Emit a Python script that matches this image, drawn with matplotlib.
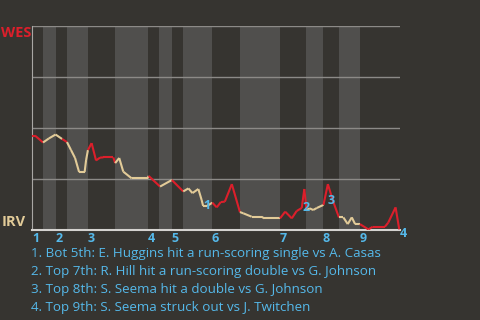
import matplotlib
matplotlib.use("Agg")
import matplotlib.pyplot as plt

# game progress (0-100) and WES win probability (%)
progress = [0, 0.8, 3.0, 4.6, 6.4, 8.2, 9.5, 10.6, 11.7, 12.8, 14.3, 14.7, 15.2,
            16.2, 17.4, 18.5, 19.4, 22.1, 22.6, 23.7, 24.8, 27.1, 31.4, 31.7,
            34.8, 38.0, 41.1, 42.5, 43.6, 45.2, 46.1, 46.5, 47.6, 49.0, 50.2,
            51.3, 52.4, 54.3, 56.5, 57.4, 59.7, 62.4, 63.1, 67.4, 68.8, 70.6,
            71.9, 73.3, 74.0, 74.6, 75.5, 76.4, 77.4, 79.2, 80.4, 81.7, 83.4,
            84.6, 85.8, 86.9, 87.8, 89.1, 91.4, 92.6, 95.9, 96.8, 98.8, 99.8]
wes_wp = [46.3, 46.3, 42.9, 44.9, 46.8, 44.6, 43.1, 39.2, 35.3, 28.4, 28.4, 34.3,
          39.2, 42.6, 34.1, 35.5, 35.6, 35.6, 32.8, 35.3, 28.6, 25.3, 25.3, 26.5,
          21.3, 24.5, 18.9, 20.4, 18.1, 20.1, 14.7, 11.8, 11.8, 13.4, 11.1, 13.7,
          13.9, 22.5, 8.8, 8.2, 6.5, 6.5, 5.7, 5.7, 9.0, 5.7, 9.3, 10.8, 20.1,
          9.8, 10.6, 9.8, 10.8, 12.3, 22.5, 14.7, 6.2, 6.2, 2.9, 6.2, 2.9, 2.9,
          0.3, 1.6, 1.6, 3.6, 11.1, 0.3]

# where each half inning starts
top_starts = [0, 6.5, 15.2, 31.5, 38, 48.9, 67.4, 79, 89]
bot_starts = [3, 9.5, 22.6, 34.5, 41, 56.5, 74.5, 83.4]
game_end = 100
innings = [str(i) for i in range(1, 10)]

# key plays: index into the series, label offset in points
play_idx = [32, 49, 55, 67]
play_off = [(0, 0), (-0.5, 2), (-1.2, -0.6), (3, -3)]
plays = [
    "1. Bot 5th: E. Huggins hit a run-scoring single vs A. Casas",
    "2. Top 7th: R. Hill hit a run-scoring double vs G. Johnson",
    "3. Top 8th: S. Seema hit a double vs G. Johnson",
    "4. Top 9th: S. Seema struck out vs J. Twitchen",
]

bg = "#363430"
band = "#504f4d"
red = "#dc1f2b"
tan = "#e2cb98"
blue = "#55b9ea"

plt.rcParams['font.family'] = ['Open Sans', 'DejaVu Sans']

fig = plt.figure(figsize=(4.8, 3.2), dpi=100, facecolor=bg)
ax = fig.add_axes([32 / 480, 90 / 320, 368 / 480, 204 / 320])
ax.set_facecolor(bg)

# shade bottom halves
for i, b in enumerate(bot_starts):
    ax.axvspan(b, top_starts[i + 1], color=band, lw=0, zorder=0)

for v in [25, 50, 75, 100]:
    ax.axhline(v, color="#8c8a87", lw=1, zorder=1)

# colour each segment by the batting team
for i in range(len(progress) - 1):
    x0 = progress[i]
    last_top = max(t for t in top_starts if t <= x0)
    last_bot = max([b for b in bot_starts if b <= x0], default=-1)
    c = red if last_top > last_bot else tan
    ax.plot(progress[i:i + 2], wes_wp[i:i + 2], color=c, lw=1.5,
            solid_capstyle='butt', zorder=3)

for k, i in enumerate(play_idx):
    ax.annotate(str(k + 1), (progress[i], wes_wp[i]), xytext=play_off[k],
                textcoords='offset points', ha='center', va='center',
                color=blue, fontsize=9, fontweight='bold', zorder=4)

ax.set_xlim(0, game_end)
ax.set_ylim(0, 100)
ax.set_xticks([])
ax.set_yticks([])
for s in ['top', 'right']:
    ax.spines[s].set_visible(False)
ax.spines['left'].set_color("#a9a7a4")
ax.spines['bottom'].set_color("#d4d2cf")
ax.spines['bottom'].set_linewidth(1.5)

for t, lab in zip(top_starts, innings):
    ax.text(t, -4, lab, ha='left', va='center', color=blue,
            fontsize=9, fontweight='bold', transform=ax.transData, clip_on=False)

fig.text(1 / 480, 1 - 33 / 320, "WES", color=red, fontsize=10.5,
         fontweight='bold', va='center', ha='left')
fig.text(2 / 480, 1 - 222 / 320, "IRV", color=tan, fontsize=10.5,
         fontweight='bold', va='center', ha='left')

for j, p in enumerate(plays):
    fig.text(31 / 480, 1 - (254 + 18 * j) / 320, p, color=blue, fontsize=9.6,
             va='center', ha='left')

fig.savefig("out.png", dpi=100, facecolor=bg)
